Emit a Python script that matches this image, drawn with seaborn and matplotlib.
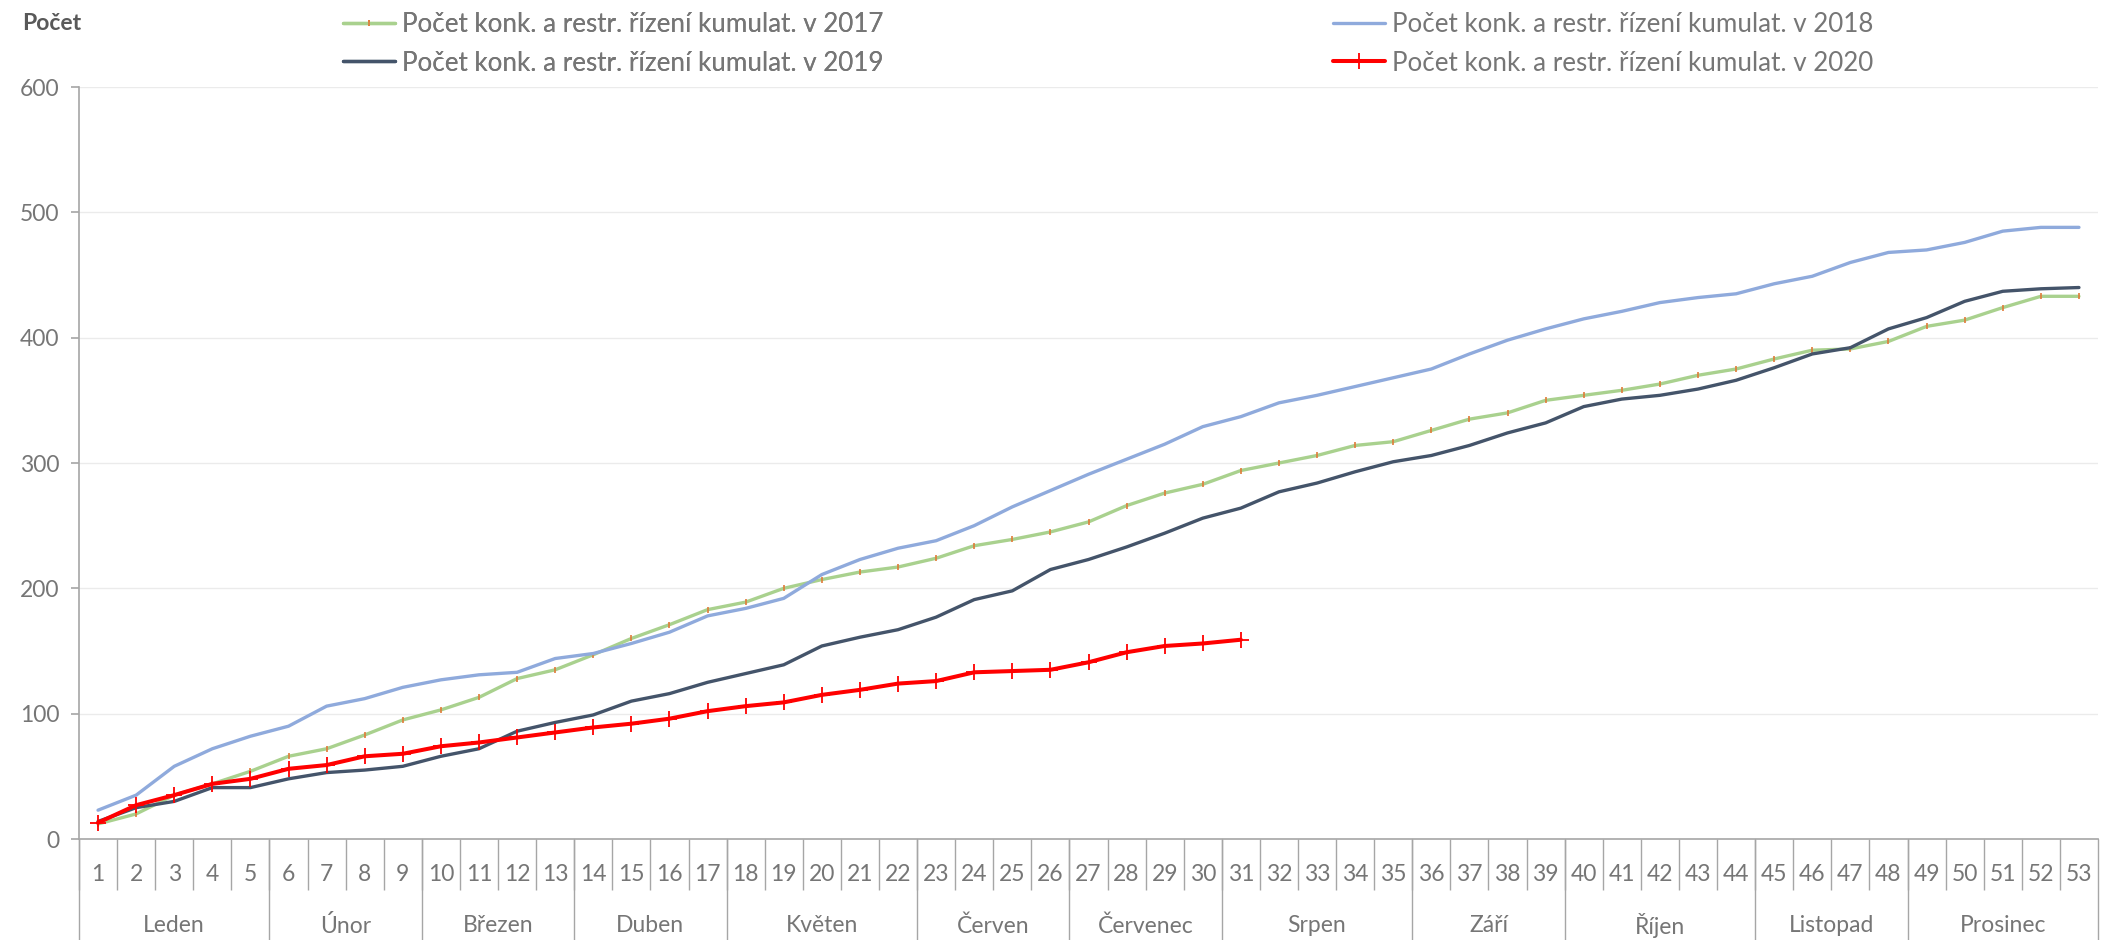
import numpy as np
import pandas as pd
import seaborn as sns
import matplotlib.pyplot as plt
import matplotlib.transforms as mtransforms

# week numbers and month groups for the two-level x axis
weeks = list(range(1, 54))
months = ["Leden", "Únor", "Březen", "Duben", "Květen", "Červen",
          "Červenec", "Srpen", "Září", "Říjen", "Listopad", "Prosinec"]
month_weeks = [5, 4, 4, 4, 5, 4, 4, 5, 4, 5, 4, 5]

# cumulative counts
y2017 = [12, 20, 35, 44, 54, 66, 72, 83, 95, 103, 113, 128, 135, 147, 160, 171, 183, 189,
         200, 207, 213, 217, 224, 234, 239, 245, 253, 266, 276, 283, 294, 300, 306, 314,
         317, 326, 335, 340, 350, 354, 358, 363, 370, 375, 383, 390, 391, 397, 409, 414,
         424, 433, 433]
y2018 = [23, 35, 58, 72, 82, 90, 106, 112, 121, 127, 131, 133, 144, 148, 156, 165, 178, 184,
         192, 211, 223, 232, 238, 250, 265, 278, 291, 303, 315, 329, 337, 348, 354, 361,
         368, 375, 387, 398, 407, 415, 421, 428, 432, 435, 443, 449, 460, 468, 470, 476,
         485, 488, 488]
y2019 = [14, 25, 30, 41, 41, 48, 53, 55, 58, 66, 72, 86, 93, 99, 110, 116, 125, 132,
         139, 154, 161, 167, 177, 191, 198, 215, 223, 233, 244, 256, 264, 277, 284, 293,
         301, 306, 314, 324, 332, 345, 351, 354, 359, 366, 376, 387, 392, 407, 416, 429,
         437, 439, 440]
y2020 = [13, 27, 35, 44, 48, 56, 59, 66, 68, 74, 77, 81, 85, 89, 92, 96, 102, 106,
         109, 115, 119, 124, 126, 133, 134, 135, 141, 149, 154, 156, 159]

label = "Počet konk. a restr. řízení kumulat. v "
text_grey = "#767676"
axis_grey = "#A6A6A6"

sns.set_style("white")
plt.rcParams["font.family"] = ["Lato", "DejaVu Sans"]

fig = plt.figure(figsize=(21.02, 9.40), dpi=100)
ax = fig.add_axes([79 / 2102, 1 - 839 / 940, (2098 - 79) / 2102, (839 - 87) / 940])

x_all = np.arange(len(weeks))
sns.lineplot(x=x_all, y=y2017, ax=ax, color="#A9D18E", linewidth=2.4,
             marker="|", markersize=5, markeredgecolor="#E07B39", markeredgewidth=1.2,
             label=label + "2017")
sns.lineplot(x=x_all, y=y2018, ax=ax, color="#8FAADC", linewidth=2.4, label=label + "2018")
sns.lineplot(x=x_all, y=y2019, ax=ax, color="#44546A", linewidth=2.4, label=label + "2019")
sns.lineplot(x=x_all[:len(y2020)], y=y2020, ax=ax, color="#FF0000", linewidth=2.9,
             marker="+", markersize=11, markeredgecolor="#FF0000", markeredgewidth=1.3,
             label=label + "2020")

ax.set_xlim(-0.5, len(weeks) - 0.5)
ax.set_ylim(0, 600)
ax.set_yticks(range(0, 601, 100))
ax.yaxis.grid(True, color="#EBEBEB", linewidth=1)
ax.set_axisbelow(True)
for s in ["top", "right"]:
    ax.spines[s].set_visible(False)
for s in ["left", "bottom"]:
    ax.spines[s].set_color(axis_grey)
    ax.spines[s].set_linewidth(1.2)
ax.tick_params(axis="y", length=6, width=1.2, color=axis_grey, pad=8,
               labelsize=16.5, labelcolor=text_grey, left=True)

# week labels + week separators
ax.set_xticks(x_all)
ax.set_xticklabels([str(w) for w in weeks])
ax.set_xticks(np.arange(-0.5, len(weeks) - 0.5, 1), minor=True)
ax.tick_params(axis="x", which="major", length=0, pad=18, labelsize=16.5, labelcolor=text_grey)
ax.tick_params(axis="x", which="minor", length=37, width=1, color=axis_grey, bottom=True)
ax.set_xlabel("")
ax.set_ylabel("")

# month separators and labels
trans = mtransforms.blended_transform_factory(ax.transData, ax.transAxes)
bounds = np.concatenate([[0], np.cumsum(month_weeks)]) - 0.5
for b in bounds:
    ax.plot([b, b], [0, -0.14], transform=trans, color=axis_grey, linewidth=1, clip_on=False)
for m, lo, hi in zip(months, bounds[:-1], bounds[1:]):
    ax.text((lo + hi) / 2, -(926 - 839) / 752, m, transform=trans, ha="center", va="center",
            fontsize=16.5, color=text_grey)

# legend in two columns at the top
lines = ax.get_lines()
ax.get_legend().remove()
leg_kw = dict(loc="upper left", frameon=False, fontsize=18.7, handlelength=2.0,
              handletextpad=0.27, labelspacing=0.52, borderpad=0, borderaxespad=0,
              labelcolor=text_grey)
leg1 = fig.legend([lines[0], lines[2]], [label + "2017", label + "2019"],
                  bbox_to_anchor=(343 / 2102, 1 - 12 / 940), **leg_kw)
leg2 = fig.legend([lines[1], lines[3]], [label + "2018", label + "2020"],
                  bbox_to_anchor=(1333 / 2102, 1 - 12 / 940), **leg_kw)
fig.add_artist(leg1)

fig.text(22 / 2102, 1 - 23 / 940, "Počet", fontsize=16.5, fontweight="bold",
         color="#595959", ha="left", va="center")

fig.savefig("out.png", dpi=100)
